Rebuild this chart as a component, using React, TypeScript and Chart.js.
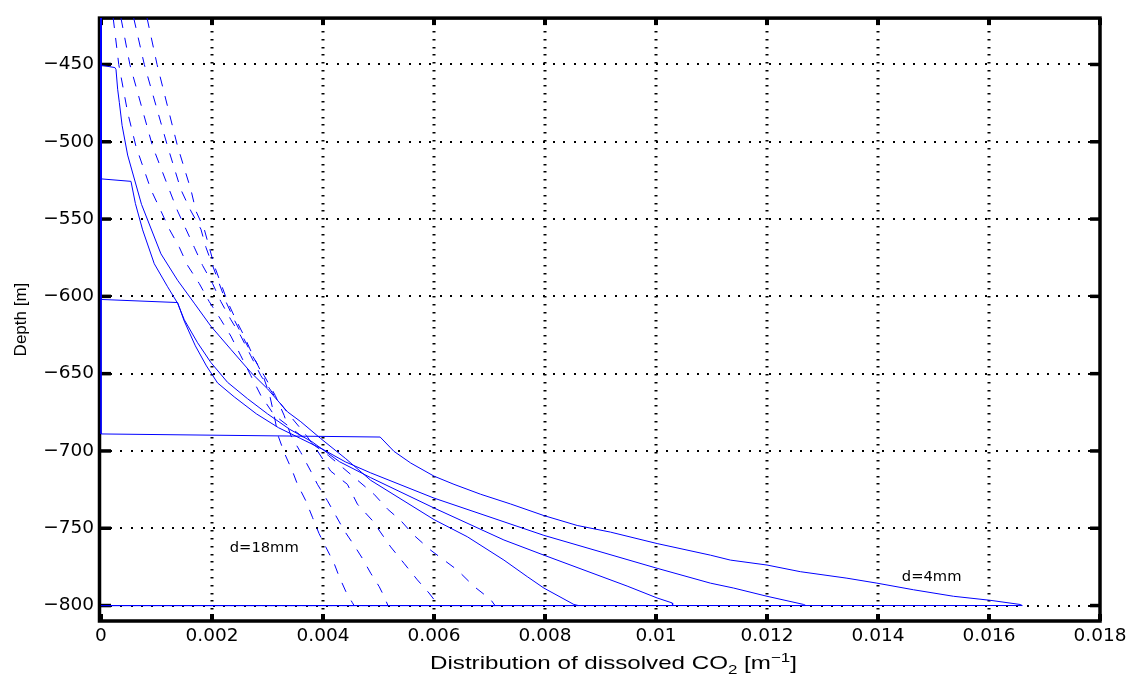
import React, { useEffect, useRef } from 'react';
import { Chart, registerables } from 'chart.js';

Chart.register(...registerables);

// ---- axis ticks ----
const xTicks = [0, 0.002, 0.004, 0.006, 0.008, 0.01, 0.012, 0.014, 0.016, 0.018];
const yTicks = [-800, -750, -700, -650, -600, -550, -500, -450];

// ---- series: distribution of dissolved CO2 [1/m] vs depth [m] ----
// d = 4 mm (solid)
const d4Conc = [0, 0, 0.00503, 0.00528, 0.00558, 0.006, 0.00636, 0.00684, 0.00738, 0.00798, 0.00858, 0.00918, 0.01002, 0.01098, 0.01134, 0.012, 0.0126, 0.01344, 0.01398, 0.01464, 0.01536, 0.01602, 0.01656, 0.0166, 0];
const d4Depth = [-420, -689, -691, -700.3, -707.8, -716.3, -721.6, -728, -734.3, -741.8, -748.2, -752.5, -759.9, -767.4, -770.6, -773.8, -778.1, -782.3, -785.5, -789.8, -794, -796.6, -799.3, -800, -800];
// d = 6 mm (solid)
const d6Conc = [0, 0, 0.00138, 0.0015, 0.0017, 0.0019, 0.0021, 0.0024, 0.0028, 0.0032, 0.0036, 0.004, 0.0044, 0.00486, 0.006, 0.00798, 0.01002, 0.01098, 0.0114, 0.012, 0.01266, 0.0127, 0];
const d6Depth = [-420, -602, -604, -616, -632, -645, -656, -665, -676, -685, -692, -699, -707, -714.2, -730.5, -754.6, -775.9, -785.5, -788.7, -794, -799.3, -800, -800];
// d = 8 mm (solid)
const d8Conc = [0, 0, 0.00054, 0.00062, 0.00075, 0.00096, 0.0012, 0.00138, 0.0015, 0.00174, 0.00198, 0.00228, 0.00264, 0.003, 0.0034, 0.0038, 0.0043, 0.00486, 0.006, 0.00726, 0.00798, 0.00948, 0.01002, 0.01029, 0.0103, 0];
const d8Depth = [-420, -524, -525.6, -540, -557, -578.9, -593.8, -604.4, -615.1, -630, -642.8, -655.6, -666.2, -676, -686, -694, -707, -717.3, -736.9, -757.6, -767.4, -787.4, -795.1, -798.3, -800, -800];
// d = 10 mm (solid)
const d10Conc = [0, 0, 0.00025, 0.00027, 0.0003, 0.00033, 0.00038, 0.00048, 0.00073, 0.00108, 0.00138, 0.00168, 0.00198, 0.00234, 0.0027, 0.003, 0.00336, 0.0036, 0.00396, 0.00441, 0.00486, 0.006, 0.0066, 0.00726, 0.00768, 0.00798, 0.00852, 0.0086, 0];
const d10Depth = [-420, -450.5, -452, -453.2, -466, -474.5, -489.4, -508.6, -540.5, -572.5, -589.6, -604.4, -619.3, -634.3, -649.2, -659.8, -674.7, -681.1, -692, -705, -719, -744.4, -755.5, -770.6, -781.3, -788.7, -799.3, -800, -800];
// d = 12 mm (dashed)
const d12Conc = [0.00022, 0.00032, 0.00048, 0.00063, 0.0009, 0.00108, 0.00123, 0.00141, 0.00156, 0.00177, 0.00195, 0.00216, 0.00234, 0.00252, 0.0027, 0.00288, 0.00312, 0.0036, 0.0041, 0.0045, 0.00492, 0.00516, 0.0054, 0.00564, 0.00594, 0.00642, 0.00672, 0.00702, 0.0071, 0];
const d12Depth = [-420, -450, -481, -503, -531, -544.8, -556.5, -568.2, -580, -591.7, -603.4, -615.1, -625.7, -638.5, -651.3, -664.1, -676.8, -690, -703, -715.2, -728, -737.5, -745, -754.6, -764.2, -777, -787.6, -796.1, -800, -800];
// d = 14 mm (dashed)
const d14Conc = [0.00036, 0.00052, 0.00093, 0.00123, 0.00138, 0.00153, 0.00168, 0.00183, 0.00201, 0.00216, 0.00234, 0.00252, 0.0027, 0.00288, 0.00312, 0.0034, 0.0037, 0.0039, 0.00414, 0.00444, 0.00462, 0.00489, 0.00522, 0.00546, 0.0057, 0.00591, 0.006, 0.00602, 0];
const d14Depth = [-420, -450, -503, -531, -544.8, -556.5, -568.2, -580, -591.7, -603.4, -615.1, -625.7, -638.5, -651.3, -664.1, -677, -690, -700, -713.1, -721.6, -734.4, -745, -762.1, -772.7, -783.4, -791.9, -796.1, -800, -800];
// d = 16 mm (dashed)
const d16Conc = [0.00059, 0.00078, 0.0012, 0.00144, 0.00162, 0.0018, 0.00189, 0.00201, 0.00213, 0.00225, 0.0024, 0.00255, 0.00273, 0.00294, 0.00314, 0.0033, 0.00342, 0.0036, 0.00378, 0.0039, 0.00408, 0.00423, 0.00438, 0.00456, 0.00471, 0.00486, 0.00501, 0.0051, 0.00517, 0];
const d16Depth = [-420, -450, -503, -531, -544.8, -556.5, -568.2, -580, -591.7, -603.4, -615.1, -625.7, -638.5, -651.3, -664.1, -677, -690, -701, -713.1, -721.6, -732.2, -741.8, -751.4, -761, -769.5, -779.1, -787.6, -794, -800, -800];
// d = 18 mm (dashed)
const d18Conc = [0.00083, 0.00101, 0.00138, 0.00162, 0.00171, 0.00186, 0.00195, 0.00204, 0.00216, 0.00228, 0.00243, 0.00258, 0.00274, 0.00292, 0.00304, 0.00312, 0.00319, 0.0033, 0.00345, 0.00354, 0.00369, 0.00381, 0.00393, 0.00405, 0.0042, 0.00429, 0.00441, 0.00453, 0.00456, 0];
const d18Depth = [-420, -450, -503, -531, -544.8, -556.5, -568.2, -580, -591.7, -603.4, -615.1, -625.7, -638.5, -651.3, -664.1, -677, -690, -701, -713.1, -721.6, -732.2, -742.9, -753.5, -762.1, -772.7, -781.2, -790.8, -798.2, -800, -800];

// ---- annotation texts ----
const labelTexts = ['d=18mm', 'd=4mm'];
const labelAt = [
  [0.00232, -763],
  [0.01443, -781.5],
];

const solidSeries = [
  [d4Conc, d4Depth],
  [d6Conc, d6Depth],
  [d8Conc, d8Depth],
  [d10Conc, d10Depth],
];
const dashedSeries = [
  [d12Conc, d12Depth],
  [d14Conc, d14Depth],
  [d16Conc, d16Depth],
  [d18Conc, d18Depth],
];

const BLUE = '#0000ff';

const toPoints = (xs: number[], ys: number[]) => xs.map((v, i) => ({ x: v, y: ys[i] }));

const framePlugin = {
  id: 'matlabFrame',
  beforeDatasetsDraw(chart: any) {
    const { ctx, chartArea: a, scales } = chart;
    const x = scales.x;
    const y = scales.y;
    ctx.save();
    ctx.fillStyle = '#000';
    // dotted horizontal grid
    for (const v of yTicks) {
      const py = Math.round(y.getPixelForValue(v));
      for (let px = a.left + 9; px < a.right - 3; px += 10.3) {
        ctx.fillRect(Math.round(px), py - 1, 2, 2);
      }
    }
    // dotted vertical grid
    for (const v of xTicks) {
      if (v <= 0 || v >= 0.018) continue;
      const px = Math.round(x.getPixelForValue(v));
      for (let py = a.top + 5; py < a.bottom - 3; py += 7.8) {
        ctx.fillRect(px - 1.5, Math.round(py), 3, 1.5);
      }
    }
    // box
    ctx.strokeStyle = '#000';
    ctx.lineWidth = 3.5;
    ctx.strokeRect(a.left - 1.5, a.top, a.right - a.left + 1.5, a.bottom - a.top);
    // inner ticks
    for (const v of yTicks) {
      const py = y.getPixelForValue(v);
      ctx.fillRect(a.left - 1, py - 1.75, 11, 3.5);
      ctx.fillRect(a.right - 10, py - 1.75, 10, 3.5);
    }
    for (const v of xTicks) {
      const px = x.getPixelForValue(v);
      ctx.fillRect(px - 2, a.bottom - 7, 4, 7);
      ctx.fillRect(px - 2, a.top, 4, 7);
    }
    ctx.restore();
  },
  afterDraw(chart: any) {
    const { ctx, chartArea: a, scales } = chart;
    const x = scales.x;
    const y = scales.y;
    ctx.save();
    ctx.fillStyle = '#000';
    // annotations
    ctx.font = '14.7px "DejaVu Sans"';
    ctx.textAlign = 'left';
    ctx.textBaseline = 'middle';
    labelTexts.forEach((t, i) => {
      ctx.fillText(t, x.getPixelForValue(labelAt[i][0]), y.getPixelForValue(labelAt[i][1]));
    });
    // y title
    ctx.save();
    ctx.font = '17px "Liberation Sans"';
    ctx.textAlign = 'center';
    ctx.textBaseline = 'alphabetic';
    ctx.translate(26, (a.top + a.bottom) / 2);
    ctx.rotate(-Math.PI / 2);
    ctx.fillText('Depth [m]', 0, 0);
    ctx.restore();
    // x title with subscript / superscript
    const big = '18.5px "Liberation Sans"';
    const small = '13px "Liberation Sans"';
    const parts: [string, string, number][] = [
      ['Distribution of dissolved CO', big, 0],
      ['2', small, 5],
      [' [m', big, 0],
      ['\u22121', small, -7],
      [']', big, 0],
    ];
    let w = 0;
    for (const [t, f] of parts) {
      ctx.font = f;
      w += ctx.measureText(t).width;
    }
    const targetW = 367;
    const sx = targetW / w;
    ctx.translate(430, 669);
    ctx.scale(sx, 1);
    ctx.textAlign = 'left';
    ctx.textBaseline = 'alphabetic';
    let cx = 0;
    for (const [t, f, dy] of parts) {
      ctx.font = f;
      ctx.fillText(t, cx, dy);
      cx += ctx.measureText(t).width;
    }
    ctx.restore();
  },
};

export default function App() {
  const ref = useRef<HTMLCanvasElement | null>(null);
  useEffect(() => {
    if (!ref.current) return;
    const datasets: any[] = [];
    solidSeries.forEach(([xs, ys]) => {
      datasets.push({
        data: toPoints(xs, ys),
        showLine: true,
        borderColor: BLUE,
        backgroundColor: BLUE,
        borderWidth: 1,
        pointRadius: 0,
        tension: 0,
        clip: false,
      });
    });
    dashedSeries.forEach(([xs, ys]) => {
      datasets.push({
        data: toPoints(xs, ys),
        showLine: true,
        borderColor: BLUE,
        backgroundColor: BLUE,
        borderWidth: 1,
        borderDash: [10, 10],
        pointRadius: 0,
        tension: 0,
        clip: false,
      });
    });
    const chart = new Chart(ref.current, {
      type: 'scatter',
      data: { datasets },
      options: {
        responsive: false,
        animation: false,
        devicePixelRatio: 1,
        events: [],
        layout: { padding: { left: 0, right: 36, top: 11, bottom: 0 } },
        plugins: { legend: { display: false }, tooltip: { enabled: false } },
        scales: {
          x: {
            type: 'linear',
            min: 0,
            max: 0.018,
            grid: { display: false, drawTicks: false },
            border: { display: false },
            afterBuildTicks: (s: any) => {
              s.ticks = xTicks.map((v) => ({ value: v }));
            },
            afterFit: (s: any) => {
              s.height = 60;
            },
            ticks: {
              autoSkip: false,
              maxRotation: 0,
              padding: 4,
              color: '#000',
              font: { family: '"DejaVu Sans"', size: 18.5 },
              callback: (v: any) => String(+Number(v).toFixed(3)),
            },
          },
          y: {
            type: 'linear',
            min: -810,
            max: -420,
            grid: { display: false, drawTicks: false },
            border: { display: false },
            afterBuildTicks: (s: any) => {
              s.ticks = yTicks.map((v) => ({ value: v }));
            },
            afterFit: (s: any) => {
              s.width = 101;
            },
            ticks: {
              autoSkip: false,
              padding: 7,
              color: '#000',
              font: { family: '"DejaVu Sans"', size: 18.5 },
              callback: (v: any) => (Number(v) < 0 ? '\u2212' + Math.abs(Number(v)) : String(v)),
            },
          },
        },
      },
      plugins: [framePlugin],
    });
    return () => chart.destroy();
  }, []);
  return (
    <div style={{ position: 'absolute', left: 0, top: 0, width: 1136, height: 681, background: '#fff' }}>
      <canvas ref={ref} width={1136} height={681} style={{ display: 'block' }} />
    </div>
  );
}
